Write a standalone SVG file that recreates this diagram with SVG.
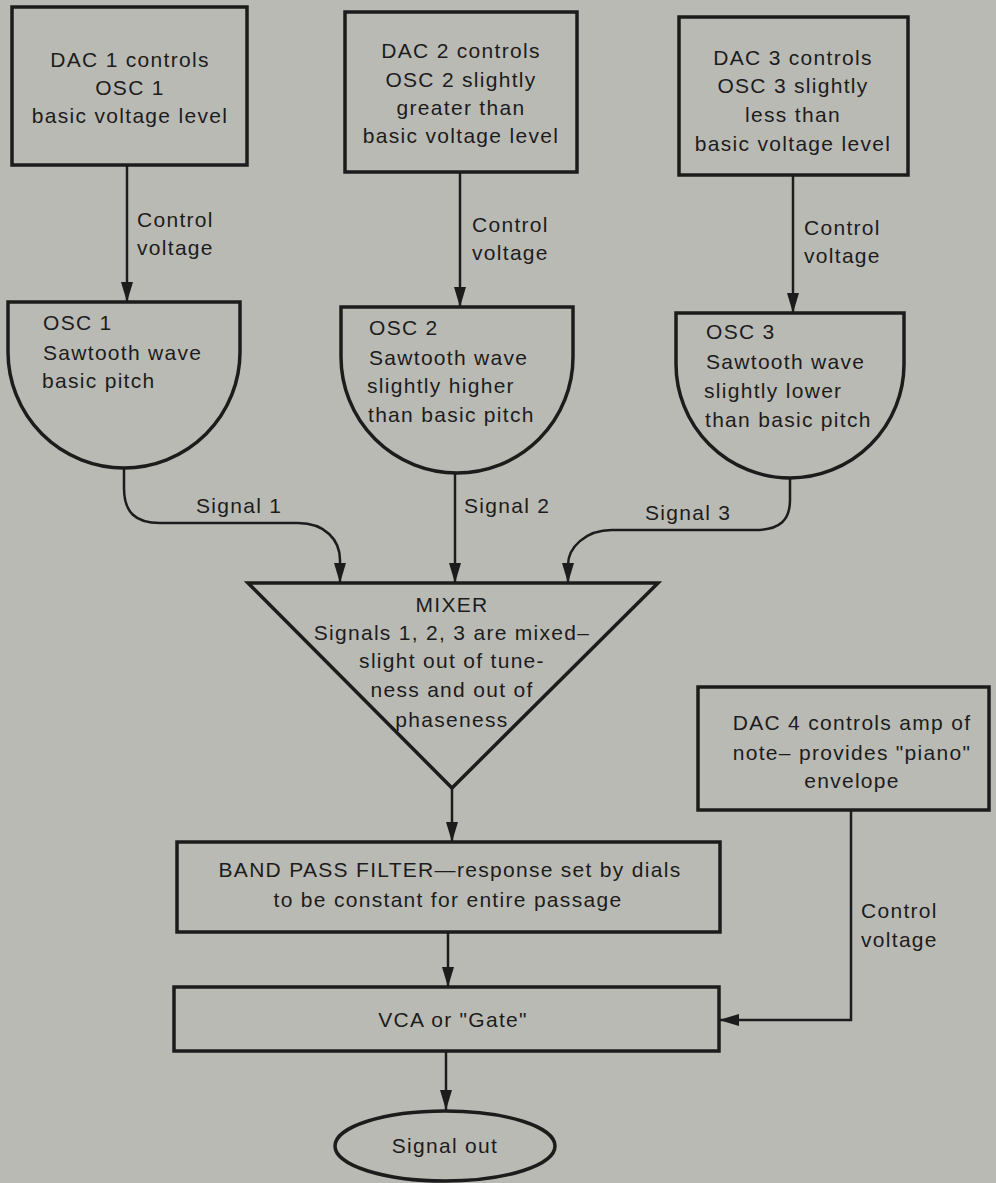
<svg xmlns="http://www.w3.org/2000/svg" width="996" height="1183" viewBox="0 0 996 1183">
  <defs>
    <marker id="arrow" markerUnits="userSpaceOnUse" markerWidth="20" markerHeight="12" refX="20" refY="6" orient="auto">
      <path d="M0,0 L20,6 L0,12 z" fill="#1c1c1c"/>
    </marker>
    <style>
      .shape { fill: none; stroke: #1c1c1c; stroke-width: 3.5; stroke-linejoin: miter; }
      .wire { fill: none; stroke: #1c1c1c; stroke-width: 2.5; marker-end: url(#arrow); }
      .wire-plain { fill: none; stroke: #1c1c1c; stroke-width: 2.5; }
      text { font-family: "Liberation Sans", Arial, sans-serif; font-size: 21px; fill: #1c1c1c; letter-spacing: 1.3px; }
      .c { text-anchor: middle; }
    </style>
  </defs>

  <rect width="996" height="1183" fill="#babab5"/>

  <!-- connectors -->
  <g id="connectors">
    <path class="wire" d="M127,165 V302"/>
    <path class="wire" d="M460,172 V307"/>
    <path class="wire" d="M793,175 V313"/>
    <path class="wire" d="M124,468 V488 C124,512 135,523 160,523 H298 C325,523 340,540 340,560 V583"/>
    <path class="wire" d="M455,473 V583"/>
    <path class="wire" d="M790,478 V500 C790,520 780,530 755,530 H612 C585,530 568,548 568,565 V583"/>
    <path class="wire" d="M452,788 V842"/>
    <path class="wire" d="M448,932 V987"/>
    <path class="wire" d="M446,1051 V1110"/>
    <path class="wire" d="M851,810 V1020 H719"/>
    <text x="137" y="227">Control</text>
    <text x="137" y="255">voltage</text>
    <text x="472" y="232">Control</text>
    <text x="472" y="260">voltage</text>
    <text x="804" y="235">Control</text>
    <text x="804" y="263">voltage</text>
    <text x="196" y="513">Signal 1</text>
    <text x="464" y="513">Signal 2</text>
    <text x="645" y="520">Signal 3</text>
    <text x="861" y="918">Control</text>
    <text x="861" y="947">voltage</text>
  </g>

  <g id="dac1">
    <rect class="shape" x="12" y="7" width="235" height="158"/>
    <text class="c" x="130" y="67">DAC 1 controls</text>
    <text class="c" x="130" y="95">OSC 1</text>
    <text class="c" x="130" y="123">basic voltage level</text>
  </g>

  <g id="dac2">
    <rect class="shape" x="345" y="12" width="232" height="160"/>
    <text class="c" x="461" y="58">DAC 2 controls</text>
    <text class="c" x="461" y="87">OSC 2 slightly</text>
    <text class="c" x="461" y="115">greater than</text>
    <text class="c" x="461" y="143">basic voltage level</text>
  </g>

  <g id="dac3">
    <rect class="shape" x="679" y="17" width="229" height="158"/>
    <text class="c" x="793" y="65">DAC 3 controls</text>
    <text class="c" x="793" y="93">OSC 3 slightly</text>
    <text class="c" x="793" y="122">less than</text>
    <text class="c" x="793" y="151">basic voltage level</text>
  </g>

  <g id="osc1">
    <path class="shape" d="M8,302 H240 V352 A116,116 0 0 1 8,352 Z"/>
    <text x="43" y="330">OSC 1</text>
    <text x="43" y="360">Sawtooth wave</text>
    <text x="42" y="388">basic pitch</text>
  </g>

  <g id="osc2">
    <path class="shape" d="M341,307 H573 V357 A116,116 0 0 1 341,357 Z"/>
    <text x="369" y="335">OSC 2</text>
    <text x="369" y="365">Sawtooth wave</text>
    <text x="367" y="393">slightly higher</text>
    <text x="368" y="422">than basic pitch</text>
  </g>

  <g id="osc3">
    <path class="shape" d="M676,313 H904 V364 A114,114 0 0 1 676,364 Z"/>
    <text x="706" y="339">OSC 3</text>
    <text x="706" y="369">Sawtooth wave</text>
    <text x="704" y="398">slightly lower</text>
    <text x="705" y="427">than basic pitch</text>
  </g>

  <g id="mixer">
    <path class="shape" d="M248,583 H658 L452,788 Z"/>
    <text class="c" x="452" y="612">MIXER</text>
    <text class="c" x="452" y="640">Signals 1, 2, 3 are mixed–</text>
    <text class="c" x="452" y="668">slight out of tune-</text>
    <text class="c" x="452" y="697">ness and out of</text>
    <text class="c" x="452" y="727">phaseness</text>
  </g>

  <g id="dac4">
    <rect class="shape" x="698" y="687" width="291" height="123"/>
    <text class="c" x="852" y="730">DAC 4 controls amp of</text>
    <text class="c" x="852" y="760">note– provides "piano"</text>
    <text class="c" x="852" y="788">envelope</text>
  </g>

  <g id="band-pass-filter">
    <rect class="shape" x="177" y="842" width="543" height="90"/>
    <text class="c" x="450" y="877">BAND PASS FILTER—response set by dials</text>
    <text class="c" x="448" y="907">to be constant for entire passage</text>
  </g>

  <g id="vca">
    <rect class="shape" x="174" y="987" width="545" height="64"/>
    <text class="c" x="453" y="1027">VCA or "Gate"</text>
  </g>

  <g id="signal-out">
    <ellipse class="shape" cx="445" cy="1146" rx="110" ry="35"/>
    <text class="c" x="445" y="1153">Signal out</text>
  </g>
</svg>
